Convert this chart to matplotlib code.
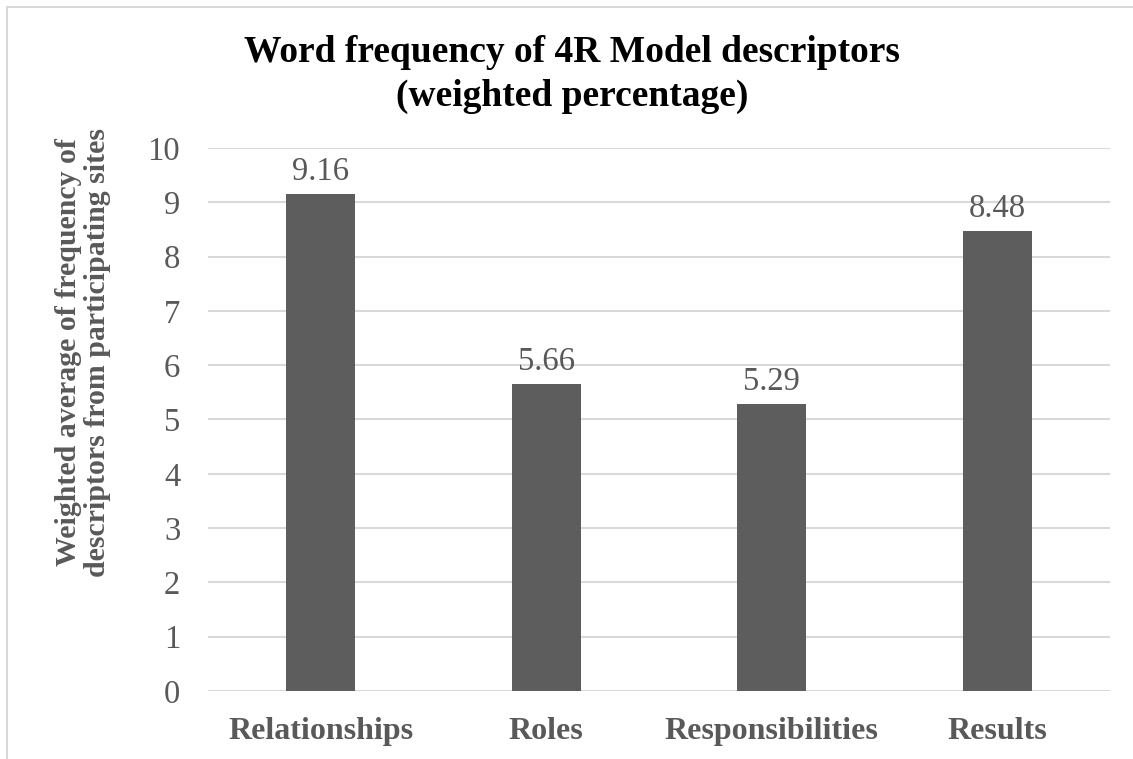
import matplotlib.pyplot as plt
from matplotlib.patches import Rectangle

categories = ['Relationships', 'Roles', 'Responsibilities', 'Results']
values = [9.16, 5.66, 5.29, 8.48]
yticks = list(range(0, 11))

bar_color = '#5d5d5d'
text_gray = '#595959'
grid_gray = '#d9d9d9'

plt.rcParams['font.family'] = ['Liberation Serif', 'DejaVu Serif']

fig = plt.figure(figsize=(11.33, 7.59), dpi=100)
ax = fig.add_axes([0.1836, 0.0896, 0.7961, 0.7154])

x = range(len(categories))
bars = ax.bar(x, values, width=0.305, color=bar_color, zorder=3)

for b, v in zip(bars, values):
    ax.annotate(f'{v:.2f}', (b.get_x() + b.get_width() / 2, v),
                xytext=(0, 5), textcoords='offset points',
                ha='center', va='bottom', fontsize=23.5, color=text_gray)

ax.set_xlim(-0.5, len(categories) - 0.5)
ax.set_ylim(0, 10)
ax.set_yticks(yticks)
ax.set_xticks(list(x))
ax.set_xticklabels(categories, fontsize=23, fontweight='bold', color=text_gray)
ax.tick_params(axis='y', labelsize=23.5, labelcolor=text_gray, length=0, pad=20)
ax.tick_params(axis='x', length=0, pad=19)
ax.grid(axis='y', color=grid_gray, linewidth=1.5, zorder=0)
for s in ax.spines.values():
    s.set_visible(False)

fig.text(0.505, 0.902, 'Word frequency of 4R Model descriptors\n(weighted percentage)',
         ha='center', va='center', fontsize=27, fontweight='bold',
         color='black', linespacing=1.32)

fig.text(0.073, 0.536, 'Weighted average of frequency of\ndescriptors from participating sites',
         ha='center', va='center', rotation=90, fontsize=21.5,
         fontweight='bold', color=text_gray, linespacing=1.1)

# light outer border
fig.patches.append(Rectangle((7 / 1133, -0.1), 1.2, 1 - 7 / 759 + 0.1,
                             transform=fig.transFigure, fill=False,
                             edgecolor='#d9d9d9', linewidth=1.5))

fig.savefig('out.png', dpi=100)
